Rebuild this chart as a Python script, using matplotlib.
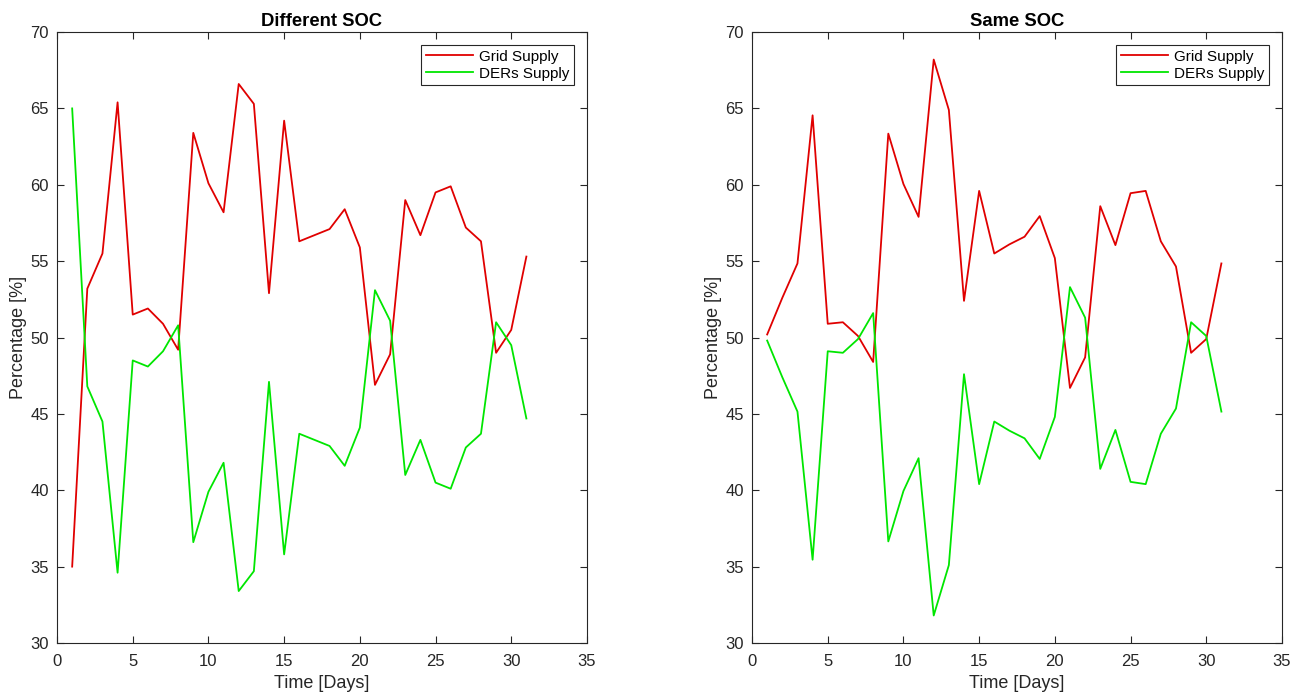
import numpy as np
import matplotlib.pyplot as plt

plt.rcParams["font.family"] = ["Liberation Sans", "DejaVu Sans"]

days = list(range(1, 32))

# Different SOC (left panel)
grid_diff = [35.0, 53.2, 55.5, 65.4, 51.5, 51.9, 50.9, 49.2, 63.4, 60.1,
             58.2, 66.6, 65.3, 52.9, 64.2, 56.3, 56.7, 57.1, 58.4, 55.9,
             46.9, 48.9, 59.0, 56.7, 59.5, 59.9, 57.2, 56.3, 49.0, 50.5, 55.3]
ders_diff = [65.0, 46.8, 44.5, 34.6, 48.5, 48.1, 49.1, 50.8, 36.6, 39.9,
             41.8, 33.4, 34.7, 47.1, 35.8, 43.7, 43.3, 42.9, 41.6, 44.1,
             53.1, 51.1, 41.0, 43.3, 40.5, 40.1, 42.8, 43.7, 51.0, 49.5, 44.7]

# Same SOC (right panel)
grid_same = [50.2, 52.6, 54.85, 64.55, 50.9, 51.0, 50.1, 48.4, 63.35, 60.05,
             57.9, 68.2, 64.9, 52.4, 59.6, 55.5, 56.1, 56.6, 57.95, 55.2,
             46.7, 48.7, 58.6, 56.05, 59.45, 59.6, 56.3, 54.65, 49.0, 49.9, 54.85]
ders_same = [49.8, 47.4, 45.15, 35.45, 49.1, 49.0, 49.9, 51.6, 36.65, 39.95,
             42.1, 31.8, 35.1, 47.6, 40.4, 44.5, 43.9, 43.4, 42.05, 44.8,
             53.3, 51.3, 41.4, 43.95, 40.55, 40.4, 43.7, 45.35, 51.0, 50.1, 45.15]

titles = ["Different SOC", "Same SOC"]
panels = [(grid_diff, ders_diff), (grid_same, ders_same)]

red = (0.88, 0.0, 0.0)
green = (0.0, 0.9, 0.0)
axcol = (0.15, 0.15, 0.15)

fig = plt.figure(figsize=(13.02, 6.97), dpi=100)
lefts = [0.0438, 0.5776]
axw = 0.407
for i, (grid, ders) in enumerate(panels):
    ax = fig.add_axes([lefts[i], 0.0775, axw, 0.8765])
    ax.plot(days, grid, color=red, linewidth=1.3, label="Grid Supply")
    ax.plot(days, ders, color=green, linewidth=1.3, label="DERs Supply")
    ax.set_xlim(0, 35)
    ax.set_ylim(30, 70)
    ax.set_xticks(range(0, 36, 5))
    ax.set_yticks(range(30, 71, 5))
    ax.tick_params(direction="in", top=True, right=True, length=5,
                   labelsize=12, colors=axcol, width=0.8)
    ax.tick_params(axis="x", pad=8)
    ax.tick_params(axis="y", pad=6)
    for s in ax.spines.values():
        s.set_color(axcol)
        s.set_linewidth(0.8)
    ax.set_title(titles[i], fontsize=13.3, fontweight="bold", pad=4.5)
    ax.set_xlabel("Time [Days]", fontsize=13, color=axcol, labelpad=4)
    ax.set_ylabel("Percentage [%]", fontsize=13, color=axcol, labelpad=2)
    leg = ax.legend(loc="upper right", fontsize=11, fancybox=False,
                    framealpha=1, edgecolor=axcol, borderaxespad=0.85,
                    handlelength=3.1, handletextpad=0.4, labelspacing=0.2,
                    borderpad=0.3)
    leg.get_frame().set_linewidth(0.8)

fig.savefig("out.png", dpi=100)
